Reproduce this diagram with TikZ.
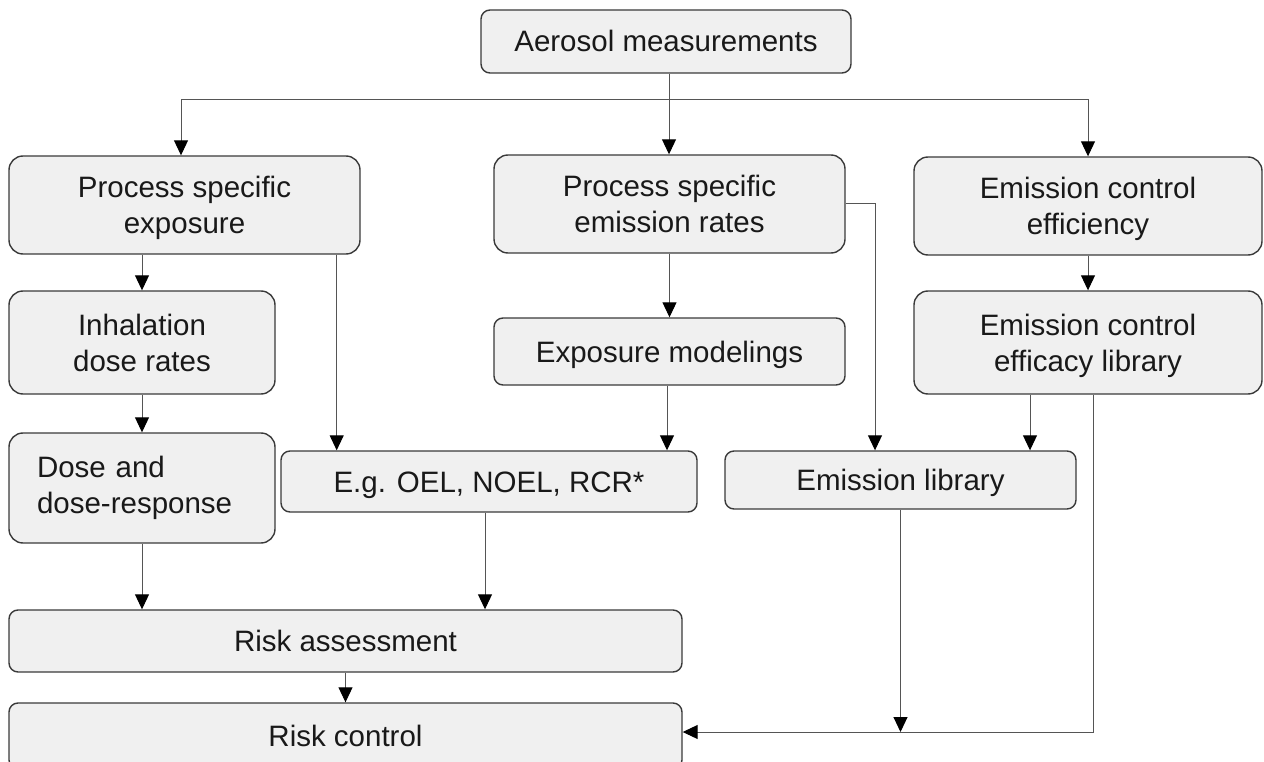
\documentclass[tikz,border=0pt]{standalone}
\usepackage{fontspec}
\setmainfont{Liberation Sans}
\usetikzlibrary{arrows.meta}
\definecolor{boxfill}{HTML}{F0F0F0}
\definecolor{boxline}{HTML}{3A3A3A}
\definecolor{connline}{HTML}{555555}
\begin{document}
\begin{tikzpicture}[x=1pt,y=-1pt,
  box/.style={draw=boxline, line width=1.4pt, fill=boxfill, rounded corners=9pt,
    inner sep=0pt, align=center, font=\fontsize{29.5}{36}\selectfont, text=black!90},
  tall/.style={rounded corners=14pt, text depth=0pt},
  oneline/.style={text height=21pt, text depth=0pt},
  conn/.style={draw=connline, line width=1pt},
  arr/.style={conn, -{Triangle[length=15pt,width=14pt,color=black]}}]
\useasboundingbox (0,0) rectangle (1264,762);
\clip (0,0) rectangle (1264,762);

\node[box, oneline, minimum width=370pt, minimum height=63pt] (aero) at (666,41.5) {Aerosol measurements};
\node[box, tall, minimum width=351pt, minimum height=98pt] (pse) at (184.5,205) {Process specific\\exposure};
\node[box, tall, minimum width=351pt, minimum height=98pt] (pser) at (669.5,204) {Process specific\\emission rates};
\node[box, tall, minimum width=348pt, minimum height=98pt] (ece) at (1088,206) {Emission control\\efficiency};
\node[box, tall, minimum width=266pt, minimum height=103pt] (inh) at (142,342.5) {Inhalation\\dose rates};
\node[box, oneline, minimum width=351pt, minimum height=67pt] (em) at (669.5,351.5) {Exposure modelings};
\node[box, tall, minimum width=348pt, minimum height=103pt] (ecel) at (1088,342.5) {Emission control\\efficacy library};
\node[box, rounded corners=14pt, minimum width=266pt, minimum height=110pt, align=left, text width=210pt] (dose) at (142,488) {Dose and\\dose-response};
\node[box, oneline, minimum width=416pt, minimum height=61pt] (eg) at (489,481.5) {E.g. OEL, NOEL, RCR*};
\node[box, oneline, minimum width=351pt, minimum height=58pt] (el) at (900.5,480) {Emission library};
\node[box, oneline, minimum width=673pt, minimum height=62pt] (ra) at (345.5,641) {Risk assessment};
\node[box, oneline, minimum width=673pt, minimum height=66pt] (rc) at (345.5,736) {Risk control};

\coordinate (hub) at (669,100);
\draw[conn] (aero.south -| hub) -- (hub);
\draw[arr] (hub) -| ([xshift=-3.5pt]pse.north);
\draw[arr] (hub) -- (hub |- pser.north);
\draw[arr] (hub) -| (ece.north);

\draw[arr] (pse.south -| inh.north) -- (inh.north);
\coordinate (pseo) at ([xshift=-24pt]pse.south east);
\draw[arr] (pseo) -- (pseo |- eg.north);
\draw[arr] (inh.south) -- (dose.north);
\draw[arr] (dose.south) -- (dose.south |- ra.north);

\draw[arr] (pser.south) -- (em.north);
\coordinate (elin) at ([xshift=-25.5pt]el.north);
\draw[arr] (pser.east) -| (elin);
\coordinate (emo) at ([xshift=-2.5pt]em.south);
\draw[arr] (emo) -- (emo |- eg.north);
\coordinate (ego) at ([xshift=-4pt]eg.south);
\draw[arr] (ego) -- (ego |- ra.north);

\draw[arr] (ece.south) -- (ecel.north);
\coordinate (eclo) at ([xshift=-58pt]ecel.south);
\draw[arr] (eclo) -- (eclo |- el.north);
\coordinate (rcin) at ([yshift=4pt]rc.east);
\coordinate (ecro) at ([xshift=5pt]ecel.south);
\draw[arr] (ecro) |- (rcin);
\draw[arr] (el.south) -- (el.south |- rcin);
\draw[arr] (ra.south) -- (rc.north);
\end{tikzpicture}
\end{document}
